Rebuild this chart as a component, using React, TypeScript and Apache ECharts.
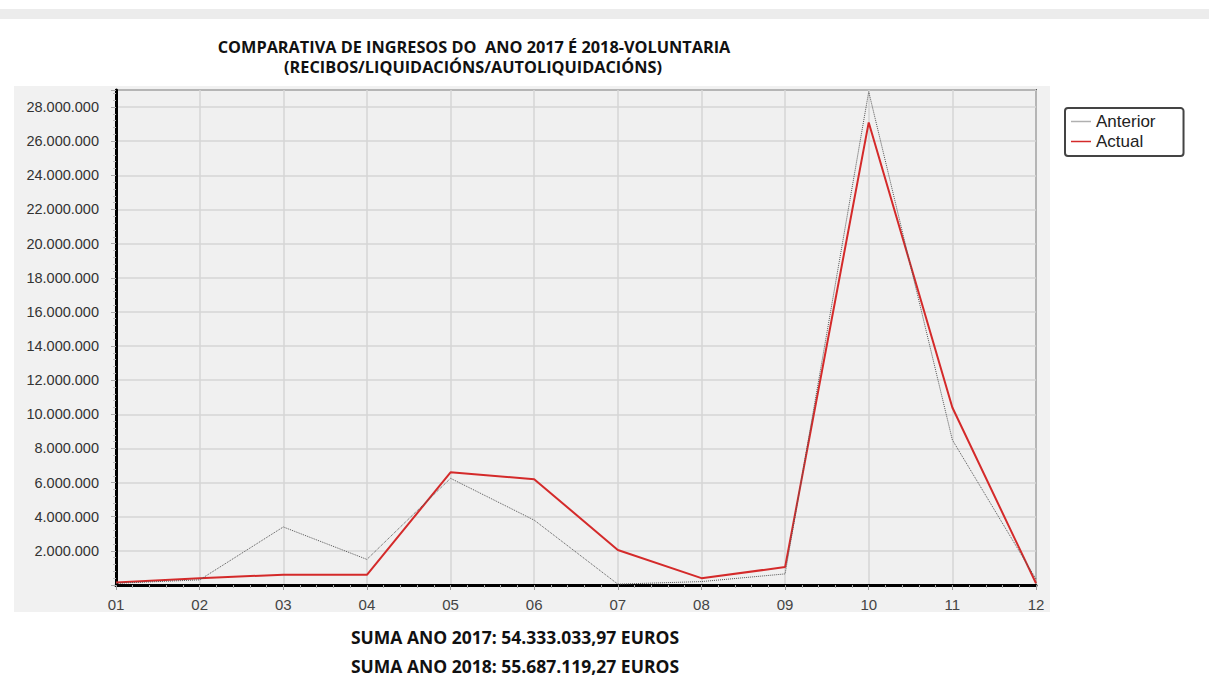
import React, { useEffect, useRef } from "react";
import * as echarts from "echarts";

const months = ["01", "02", "03", "04", "05", "06", "07", "08", "09", "10", "11", "12"];
const anterior = [100000, 300000, 3400000, 1500000, 6250000, 3800000, 50000, 200000, 650000, 28900000, 8500000, 350000];
const actual = [150000, 400000, 600000, 600000, 6600000, 6200000, 2050000, 400000, 1050000, 27100000, 10400000, 100000];
const titleLines = ["COMPARATIVA DE INGRESOS DO  ANO 2017 É 2018-VOLUNTARIA", "(RECIBOS/LIQUIDACIÓNS/AUTOLIQUIDACIÓNS)"];
const sumLines = ["SUMA ANO 2017: 54.333.033,97 EUROS", "SUMA ANO 2018: 55.687.119,27 EUROS"];
const seriesNames = ["Anterior", "Actual"];

const fmt = (v: number) => String(Math.round(v)).replace(/\B(?=(\d{3})+(?!\d))/g, ".");

export default function App() {
  const ref = useRef<HTMLDivElement>(null);
  useEffect(() => {
    if (!ref.current) return;
    const chart = echarts.init(ref.current, undefined, { renderer: "svg" });
    const boldFont = "'Open Sans', sans-serif";
    const plainFont = "'Liberation Sans', Arial, sans-serif";
    const titleStyle = { font: "bold 16.3px " + boldFont, fill: "#111", align: "center", verticalAlign: "middle" };
    chart.setOption({
      animation: false,
      backgroundColor: "#ffffff",
      graphic: [
        { type: "rect", z: -10, shape: { x: 0, y: 9, width: 1209, height: 10 }, style: { fill: "#ececec" } },
        { type: "rect", z: -10, shape: { x: 14, y: 86, width: 1036, height: 526 }, style: { fill: "#f1f1f1" } },
        { type: "text", x: 474, y: 47, style: { ...titleStyle, text: titleLines[0] } },
        { type: "text", x: 473, y: 67, style: { ...titleStyle, text: titleLines[1] } },
        {
          type: "text", x: 515, y: 637,
          style: { text: sumLines[0], font: "bold 17.5px " + boldFont, fill: "#111", align: "center", verticalAlign: "middle" },
        },
        {
          type: "text", x: 515, y: 666,
          style: { text: sumLines[1], font: "bold 17.5px " + boldFont, fill: "#111", align: "center", verticalAlign: "middle" },
        },
      ],
      legend: {
        orient: "vertical",
        left: 1065,
        top: 108,
        data: [
          { name: seriesNames[0], itemStyle: { color: "#b0b0b0" } },
          { name: seriesNames[1] },
        ],
        icon: "rect",
        backgroundColor: "#ffffff",
        borderColor: "#444",
        borderWidth: 2,
        borderRadius: 3,
        padding: [5, 28, 6, 6],
        itemGap: 3,
        itemWidth: 20,
        itemHeight: 1.5,
        textStyle: { fontSize: 17, fontFamily: plainFont, color: "#222", padding: [0, 0, 0, 0] },
      },
      grid: {
        left: 116,
        top: 90,
        right: 173,
        bottom: 98,
        show: true,
        backgroundColor: "#f0f0f0",
        borderColor: "#555",
        borderWidth: 2,
      },
      xAxis: {
        type: "value",
        min: 1,
        max: 12,
        interval: 1,
        axisLine: { show: true, lineStyle: { color: "#000", width: 3 } },
        axisTick: { show: true, length: 5, lineStyle: { color: "#999" } },
        minorTick: { show: true, splitNumber: 5, length: 3, lineStyle: { color: "#aaa" } },
        splitLine: { show: true, lineStyle: { color: "#d6d6d6", width: 1.5 } },
        axisLabel: {
          margin: 12,
          fontSize: 15,
          fontFamily: plainFont,
          color: "#444",
          formatter: (v: number) => months[Math.round(v) - 1] ?? "",
        },
      },
      yAxis: {
        type: "value",
        min: 0,
        max: 29000000,
        interval: 2000000,
        axisLine: { show: true, lineStyle: { color: "#000", width: 3 } },
        axisTick: { show: true, length: 5, lineStyle: { color: "#aaa" } },
        minorTick: { show: true, splitNumber: 5, length: 3, lineStyle: { color: "#bbb" } },
        splitLine: { show: true, lineStyle: { color: "#d6d6d6", width: 1.5 } },
        axisLabel: {
          margin: 17,
          fontSize: 14.5,
          fontFamily: plainFont,
          color: "#333",
          showMinLabel: false,
          showMaxLabel: false,
          formatter: (v: number) => fmt(v),
        },
      },
      series: [
        {
          name: seriesNames[0],
          type: "line",
          symbol: "none",
          data: anterior.map((v, i) => [i + 1, v]),
          lineStyle: { color: "#555", width: 1, type: "dotted" },
          itemStyle: { color: "#b0b0b0" },
          z: 3,
        },
        {
          name: seriesNames[1],
          type: "line",
          symbol: "none",
          data: actual.map((v, i) => [i + 1, v]),
          lineStyle: { color: "#d42a2a", width: 2 },
          itemStyle: { color: "#d42a2a" },
          z: 2,
        },
      ],
    });
    return () => chart.dispose();
  }, []);
  return <div ref={ref} style={{ position: "fixed", left: 0, top: 0, width: 1209, height: 683 }} />;
}
